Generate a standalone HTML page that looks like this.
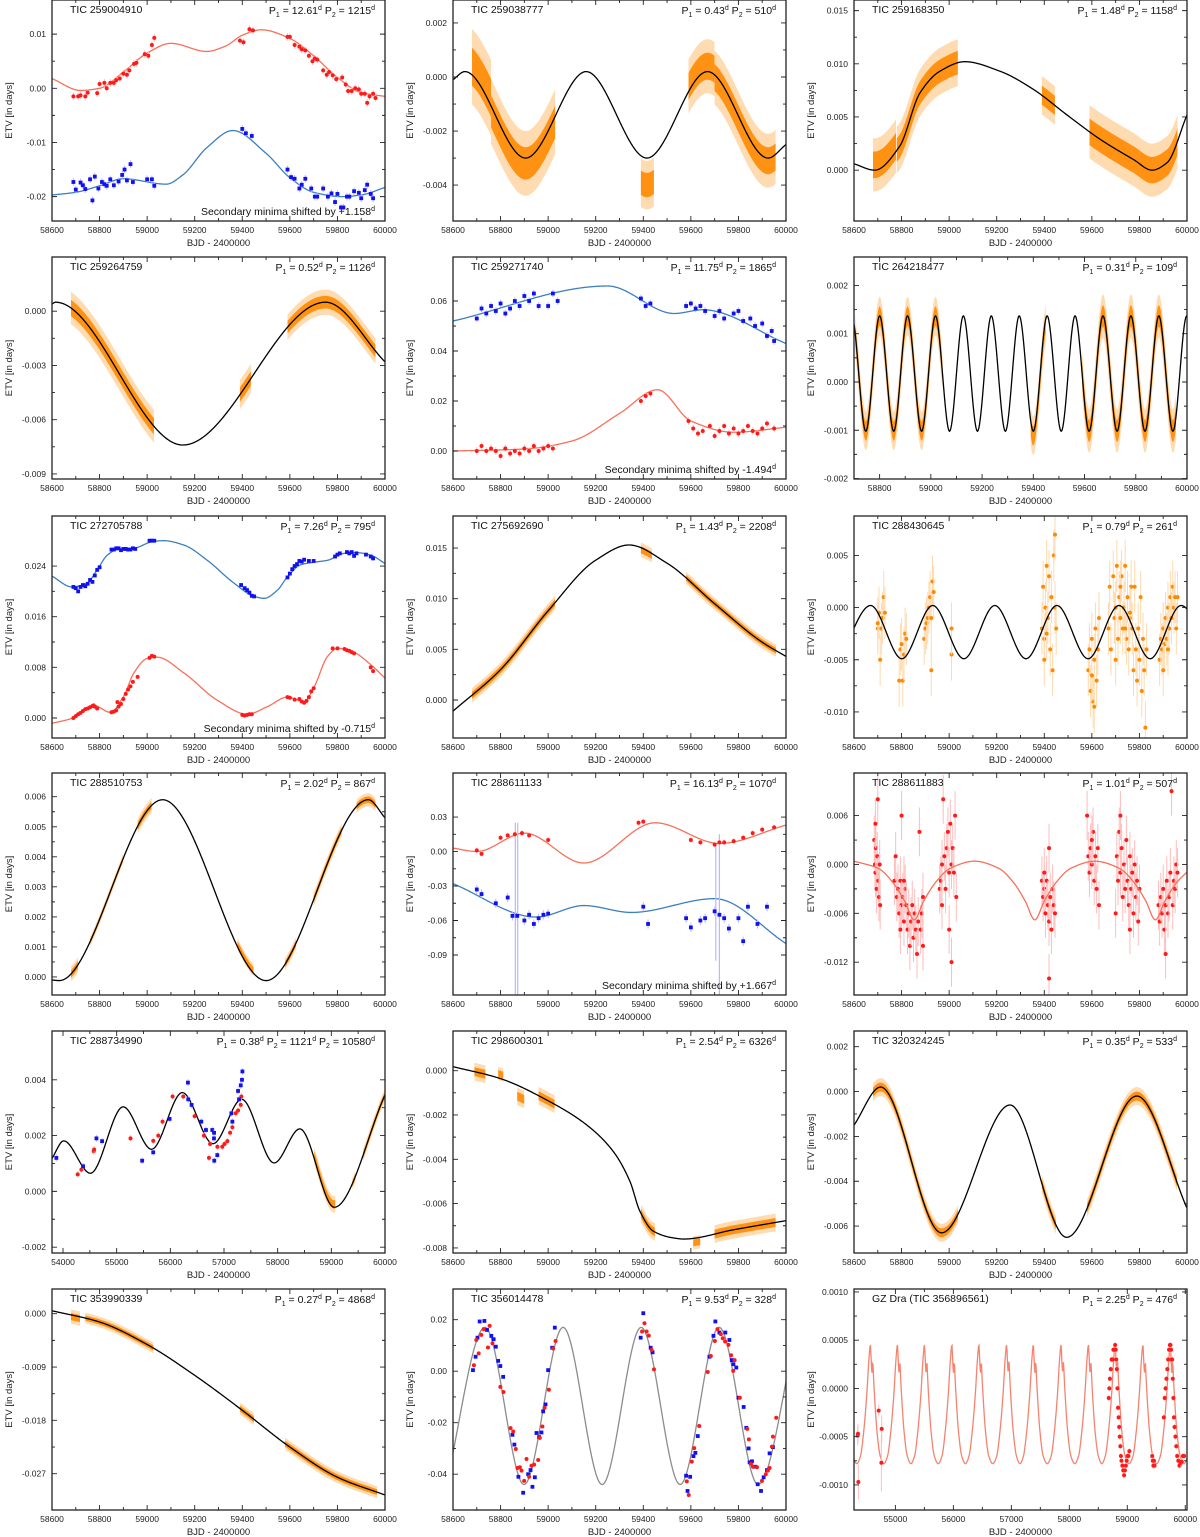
<!DOCTYPE html>
<html><head><meta charset="utf-8"><title>ETV panels</title>
<style>
html,body{margin:0;padding:0;background:#fff;}
svg{display:block;font-family:"Liberation Sans",Arial,sans-serif;}
</style></head>
<body>
<svg id="fig" xmlns="http://www.w3.org/2000/svg" width="1200" height="1537" viewBox="0 0 1200 1537"></svg>
<script>
// ---------------- DATA ----------------
const p01_redCurve=[[58600,0.0018],[58720,-0.0004],[58800,0.0],[58900,0.003],[59000,0.0065],[59100,0.0083],[59250,0.0068],[59330,0.0078],[59400,0.0098],[59480,0.0108],[59600,0.0092],[59700,0.006],[59800,0.002],[59900,-0.0008],[60000,-0.0015]];
const p01_blueCurve=[[58600,-0.0197],[58700,-0.0192],[58800,-0.018],[58900,-0.0167],[59080,-0.0177],[59150,-0.016],[59250,-0.011],[59360,-0.0078],[59500,-0.012],[59600,-0.0165],[59700,-0.0192],[59820,-0.02],[59900,-0.0197],[60000,-0.0183]];
const p01_redPts=[[58690,-0.0015],[58710,-0.0015],[58720,-0.0013],[58740,-0.0015],[58750,-0.0008],[58790,-0.0009],[58800,0.0008],[58820,0.001],[58830,0.0],[58845,0.001],[58860,0.001],[58870,0.0015],[58885,0.0018],[58900,0.0027],[58915,0.0025],[58925,0.0033],[58945,0.0045],[58955,0.0047],[58990,0.0063],[59005,0.006],[59020,0.008],[59030,0.0093],[59390,0.0088],[59405,0.0085],[59430,0.0109],[59445,0.0107],[59590,0.0095],[59600,0.0095],[59620,0.008],[59640,0.0077],[59650,0.0072],[59665,0.007],[59680,0.006],[59695,0.005],[59705,0.0055],[59715,0.0053],[59740,0.0033],[59755,0.0025],[59765,0.003],[59780,0.0024],[59795,0.0017],[59820,0.002],[59835,0.0007],[59845,-0.0005],[59860,-0.0005],[59875,0.0],[59890,-0.0002],[59900,-0.001],[59915,-0.001],[59925,-0.0027],[59935,-0.0015],[59950,-0.001],[59960,-0.0018]];
const p01_bluePts=[[58690,-0.0173],[58700,-0.0187],[58720,-0.0174],[58730,-0.0179],[58740,-0.0186],[58760,-0.0168],[58770,-0.0207],[58780,-0.0163],[58795,-0.0185],[58810,-0.0173],[58820,-0.0177],[58830,-0.018],[58845,-0.0168],[58860,-0.0179],[58880,-0.0172],[58895,-0.016],[58905,-0.015],[58915,-0.017],[58930,-0.014],[58940,-0.0173],[59000,-0.0168],[59020,-0.0168],[59030,-0.018],[59400,-0.0075],[59415,-0.0083],[59440,-0.0088],[59590,-0.015],[59605,-0.0164],[59620,-0.0167],[59640,-0.0185],[59650,-0.0178],[59665,-0.0167],[59690,-0.0185],[59705,-0.02],[59715,-0.02],[59740,-0.0185],[59760,-0.02],[59775,-0.0194],[59790,-0.021],[59800,-0.0195],[59815,-0.022],[59825,-0.022],[59840,-0.02],[59850,-0.02],[59870,-0.019],[59890,-0.0193],[59900,-0.0203],[59915,-0.0188],[59925,-0.0178],[59940,-0.0195],[59950,-0.0203]];
const p01_yTicks=[-0.02,-0.01,0,0.01];
const p02_curve=[[58600,-0.0001],[58650,0.0002],[58905,-0.003],[59160,0.0002],[59415,-0.003],[59670,0.0002],[59925,-0.003],[60000,-0.0025]];
const p02_clouds=[[58680,58760,0.0014,0.0003],[58760,59030,0.0012,-0.0002],[59390,59445,0.0009,-0.001],[59590,59700,0.001,0.0002],[59700,59960,0.001,-0.0001]];
const p02_yTicks=[-0.004,-0.002,0,0.002];
const p03_curve=[[58600,0.0006],[58687,0],[58792,0.00225],[58877,0.00725],[58961,0.0093],[59066,0.0102],[59214,0.0093],[59354,0.0076],[59495,0.0052],[59635,0.0029],[59775,0.001],[59853,0],[59916,0.0007],[60000,0.0052]];
const p03_clouds=[[58680,58780,0.0025,0.0005],[58780,59040,0.0022,0],[59390,59445,0.0018,0],[59590,59960,0.0025,0]];
const p03_yTicks=[0,0.005,0.01,0.015];
const p04_curve=[[58600,0.0004],[58615,0.0005],[59150,-0.0074],[59750,0.0005],[60000,-0.0028]];
const p04_clouds=[[58680,59030,0.0009,0],[59390,59440,0.0008,0],[59590,59960,0.0007,0]];
const p04_yTicks=[-0.009,-0.006,-0.003,0];
const p05_blueCurve=[[58600,0.052],[59250,0.066],[59530,0.055],[59650,0.0565],[60000,0.043]];
const p05_redCurve=[[58600,0.0],[58900,0.0008],[59100,0.004],[59300,0.015],[59460,0.0245],[59600,0.012],[59780,0.0075],[60000,0.0095]];
const p05_bluePts=[[58700,0.053],[58720,0.057],[58740,0.055],[58760,0.058],[58780,0.056],[58800,0.059],[58820,0.055],[58840,0.057],[58860,0.06],[58880,0.058],[58900,0.062],[58920,0.06],[58940,0.063],[58960,0.058],[59000,0.058],[59020,0.063],[59040,0.06],[59390,0.061],[59410,0.058],[59430,0.059],[59580,0.058],[59600,0.059],[59620,0.057],[59640,0.058],[59660,0.056],[59700,0.054],[59720,0.056],[59740,0.053],[59780,0.055],[59800,0.056],[59820,0.052],[59850,0.053],[59870,0.05],[59900,0.051],[59920,0.046],[59940,0.048],[59950,0.044]];
const p05_redPts=[[58700,0.0],[58720,0.002],[58740,0.0],[58760,0.001],[58780,0.0],[58800,-0.002],[58820,0.001],[58840,-0.001],[58860,0.0],[58880,-0.001],[58900,0.001],[58920,0.0],[58940,0.002],[58960,0.0],[58980,0.001],[59000,0.002],[59020,0.001],[59390,0.02],[59410,0.022],[59430,0.023],[59590,0.012],[59610,0.009],[59630,0.007],[59650,0.008],[59680,0.01],[59700,0.006],[59720,0.008],[59740,0.01],[59760,0.007],[59780,0.009],[59800,0.007],[59820,0.008],[59840,0.01],[59860,0.008],[59880,0.007],[59900,0.009],[59920,0.011],[59950,0.009]];
const p05_yTicks=[0,0.02,0.04,0.06];
const p06_curve=[[58637,-0.00102],[58691,0.00137],[58746,-0.00102],[58800,0.00137],[58855,-0.00102],[58909,0.00137],[58964,-0.00102],[59018,0.00137],[59073,-0.00102],[59127,0.00137],[59182,-0.00102],[59236,0.00137],[59291,-0.00102],[59345,0.00137],[59400,-0.00102],[59454,0.00137],[59509,-0.00102],[59563,0.00137],[59618,-0.00102],[59672,0.00137],[59727,-0.00102],[59781,0.00137],[59836,-0.00102],[59890,0.00137],[59945,-0.00102],[59999,0.00137],[60054,-0.00102]];
const p06_clouds=[[58705,59045,0.0004,0],[59390,59450,0.0004,-0.0001],[59590,59960,0.00045,0]];
const p06_yTicks=[-0.002,-0.001,0,0.001,0.002];
const p07_blueCurve=[[58600,0.0224],[58684,0.0207],[58747,0.0213],[58790,0.0234],[58832,0.0257],[58874,0.0266],[58944,0.0268],[59028,0.0279],[59070,0.028],[59155,0.0273],[59253,0.0249],[59365,0.0213],[59450,0.0192],[59492,0.0189],[59548,0.0202],[59590,0.0223],[59646,0.0242],[59702,0.0246],[59758,0.0249],[59829,0.026],[59885,0.0261],[59941,0.0257],[60000,0.0244]];
const p07_redCurve=[[58600,-0.00084],[58684,-0.00005],[58775,0.002],[58845,0.0009],[58901,0.0034],[58944,0.0071],[59000,0.0094],[59042,0.0096],[59155,0.0071],[59295,0.0028],[59421,0.0006],[59506,0.0018],[59590,0.0033],[59660,0.0026],[59702,0.0049],[59758,0.0097],[59800,0.011],[59857,0.0106],[59941,0.0084],[60000,0.0063]];
const p07_bluePts=[[58690,0.0207],[58700,0.0205],[58710,0.02],[58720,0.0207],[58730,0.021],[58740,0.0208],[58750,0.0212],[58760,0.0218],[58770,0.0215],[58780,0.0225],[58790,0.0234],[58800,0.0238],[58850,0.0266],[58860,0.0266],[58870,0.0268],[58880,0.0268],[58890,0.0265],[58900,0.0267],[58910,0.0267],[58920,0.0266],[58930,0.0266],[58940,0.0268],[58950,0.0267],[59010,0.028],[59020,0.028],[59030,0.028],[59395,0.021],[59410,0.0205],[59420,0.0202],[59430,0.0198],[59440,0.0193],[59450,0.0192],[59590,0.0222],[59600,0.0228],[59610,0.0235],[59620,0.024],[59630,0.0243],[59640,0.0248],[59650,0.0247],[59660,0.025],[59680,0.0248],[59700,0.0248],[59790,0.0255],[59800,0.0258],[59810,0.026],[59840,0.0262],[59850,0.026],[59860,0.0262],[59870,0.0256],[59880,0.026],[59920,0.0258],[59940,0.0255],[59950,0.0252]];
const p07_redPts=[[58690,0.0],[58700,0.0003],[58710,0.0006],[58720,0.0008],[58730,0.0011],[58740,0.0014],[58750,0.0015],[58760,0.0017],[58770,0.0019],[58775,0.002],[58780,0.0018],[58790,0.0015],[58850,0.0009],[58860,0.001],[58870,0.0012],[58875,0.0025],[58880,0.0018],[58890,0.0022],[58900,0.003],[58910,0.0038],[58920,0.0045],[58930,0.005],[58940,0.0057],[58960,0.0065],[59010,0.0095],[59020,0.0098],[59030,0.0097],[59400,0.0005],[59410,0.0004],[59420,0.0005],[59430,0.0006],[59440,0.0006],[59590,0.0033],[59600,0.0032],[59620,0.0029],[59640,0.003],[59650,0.0026],[59660,0.0024],[59670,0.0027],[59680,0.0033],[59690,0.0042],[59700,0.0047],[59780,0.011],[59800,0.011],[59830,0.0109],[59840,0.0107],[59850,0.0106],[59860,0.0104],[59870,0.0102],[59940,0.008],[59950,0.0074]];
const p07_yTicks=[0,0.008,0.016,0.024];
const p08_curve=[[58600,-0.0011],[58800,0.003],[59000,0.0088],[59200,0.0138],[59340,0.0153],[59500,0.0135],[59700,0.0095],[59900,0.0057],[60000,0.0043]];
const p08_clouds=[[58680,59030,0.0007,0],[59390,59440,0.0007,-0.0002],[59580,59960,0.0006,0]];
const p08_yTicks=[0,0.005,0.01,0.015];
const p09_curve=[[58540,-0.0049],[58670,0.0002],[58801,-0.0049],[58931,0.0002],[59062,-0.0049],[59192,0.0002],[59323,-0.0049],[59453,0.0002],[59584,-0.0049],[59714,0.0002],[59845,-0.0049],[59975,0.0002],[60106,-0.0049]];
const p09_pts=[[58700,-0.002],[58705,-0.0005],[58710,-0.005],[58715,-0.002],[58720,-0.001],[58725,0.001],[58730,-0.0005],[58700,-0.0015],[58790,-0.007],[58795,-0.004],[58800,-0.0035],[58805,-0.007],[58810,-0.0045],[58815,-0.0025],[58820,-0.003],[58895,-0.003],[58900,-0.002],[58905,-0.0015],[58910,-0.001],[58915,0.0],[58920,0.001],[58925,-0.001],[58930,0.0025],[58935,0.0015],[58925,-0.006],[59010,-0.0045],[59010,-0.002],[59390,-0.002],[59395,0.002],[59400,-0.003],[59405,0.0],[59410,0.004],[59415,-0.001],[59420,0.003],[59425,-0.004],[59430,0.001],[59435,-0.006],[59440,0.005],[59445,0.0],[59450,-0.002],[59445,0.007],[59400,-0.005],[59410,-0.0025],[59585,-0.006],[59590,-0.004],[59595,-0.008],[59600,-0.003],[59605,-0.009],[59610,-0.005],[59615,-0.002],[59620,-0.007],[59625,-0.004],[59630,-0.001],[59600,-0.0065],[59610,-0.0095],[59670,-0.002],[59675,0.002],[59680,-0.004],[59690,0.003],[59695,-0.001],[59700,0.0],[59705,0.004],[59710,-0.003],[59715,0.001],[59720,-0.001],[59725,0.003],[59730,-0.002],[59735,0.0],[59740,0.004],[59745,-0.003],[59750,0.001],[59755,-0.004],[59760,-0.001],[59765,0.002],[59770,-0.002],[59775,-0.006],[59780,0.002],[59785,-0.004],[59790,-0.007],[59795,-0.002],[59800,-0.005],[59805,0.001],[59810,-0.008],[59815,-0.003],[59820,-0.006],[59825,-0.0115],[59830,-0.004],[59700,-0.005],[59720,0.002],[59740,-0.002],[59760,-0.0005],[59885,-0.005],[59890,-0.003],[59895,-0.004],[59900,-0.002],[59905,-0.0035],[59910,-0.001],[59915,-0.003],[59920,0.0],[59925,-0.002],[59930,0.001],[59935,-0.001],[59940,0.002],[59945,0.0],[59950,0.001],[59955,-0.002],[59960,0.001],[59900,-0.006],[59920,-0.004]];
const p09_yTicks=[-0.01,-0.005,0,0.005];
const p10_curve=[[58600,-0.0001],[58630,-0.00012],[59065,0.0059],[59500,-0.00012],[59930,0.0059],[60000,0.0053]];
const p10_clouds=[[58680,58710,0.00025,0],[58760,58900,0.00015,0],[58960,59020,0.00025,0],[59380,59450,0.0002,0.0001],[59580,59630,0.0002,0],[59700,59820,0.00022,0],[59880,59960,0.00022,0]];
const p10_yTicks=[0,0.001,0.002,0.003,0.004,0.005,0.006];
const p11_redCurve=[[58600,0.003],[58700,0.0],[58900,0.016],[59150,-0.01],[59450,0.025],[59720,0.007],[60000,0.023]];
const p11_blueCurve=[[58600,-0.028],[58950,-0.057],[59150,-0.047],[59350,-0.053],[59700,-0.041],[60000,-0.08]];
const p11_redPts=[[58700,0.001],[58720,-0.002],[58800,0.012],[58830,0.014],[58860,0.015],[58890,0.016],[58920,0.014],[59000,0.01],[59380,0.025],[59400,0.026],[59600,0.01],[59640,0.008],[59700,0.006],[59720,0.008],[59740,0.008],[59780,0.009],[59820,0.012],[59860,0.016],[59900,0.019],[59950,0.021]];
const p11_bluePts=[[58700,-0.033],[58720,-0.037],[58780,-0.045],[58830,-0.04],[58850,-0.056],[58870,-0.056],[58900,-0.06],[58920,-0.055],[58940,-0.063],[58960,-0.058],[58980,-0.055],[59000,-0.054],[59400,-0.048],[59420,-0.063],[59580,-0.058],[59600,-0.066],[59640,-0.06],[59660,-0.058],[59700,-0.052],[59720,-0.055],[59740,-0.058],[59760,-0.067],[59800,-0.058],[59820,-0.078],[59840,-0.048],[59880,-0.063],[59920,-0.048]];
const p11_bigErr=[[58862,-0.055,0.08],[58872,-0.06,0.085],[59705,-0.045,0.05],[59720,-0.055,0.07]];
const p11_yTicks=[-0.09,-0.06,-0.03,0,0.03];
const p12_curve=[[58600,0.0004],[58703,-0.0005],[58763,-0.0022],[58813,-0.0045],[58853,-0.0068],[58893,-0.0045],[58943,-0.0022],[59003,-0.0005],[59107,0.0004],[59210,-0.0005],[59270,-0.0022],[59320,-0.0045],[59360,-0.0068],[59400,-0.0045],[59450,-0.0022],[59510,-0.0005],[59613,0.0004],[59717,-0.0005],[59777,-0.0022],[59827,-0.0045],[59867,-0.0068],[59907,-0.0045],[59957,-0.0022],[60017,-0.0005]];
const p12_pts=[[58685,0.003],[58688,0.0],[58690,-0.001],[58692,0.002],[58695,-0.003],[58698,0.001],[58700,0.008],[58702,-0.002],[58705,-0.004],[58708,0.0],[58710,-0.005],[58690,0.005],[58770,-0.002],[58775,0.001],[58780,-0.004],[58785,-0.003],[58790,-0.006],[58795,-0.002],[58800,0.006],[58800,-0.005],[58805,-0.004],[58810,-0.007],[58815,-0.003],[58820,-0.005],[58825,-0.008],[58830,-0.006],[58835,-0.01],[58840,-0.007],[58845,-0.005],[58850,-0.009],[58855,-0.006],[58860,-0.008],[58865,-0.011],[58870,-0.007],[58875,0.004],[58880,-0.008],[58885,-0.006],[58890,-0.004],[58890,-0.01],[58795,-0.008],[58810,-0.002],[58960,-0.003],[58965,-0.002],[58970,-0.005],[58975,0.008],[58980,0.001],[58985,-0.003],[58990,0.002],[58995,0.004],[59000,-0.001],[59005,0.005],[59010,0.0],[59015,0.002],[59020,-0.001],[59025,0.006],[59030,-0.004],[59010,-0.012],[59000,-0.008],[58970,0.0],[59390,-0.002],[59395,-0.004],[59400,-0.003],[59405,-0.006],[59410,-0.002],[59415,-0.005],[59420,0.002],[59420,-0.007],[59425,-0.004],[59430,-0.008],[59435,-0.003],[59440,-0.005],[59445,-0.006],[59420,-0.014],[59400,-0.001],[59580,0.006],[59585,0.001],[59590,-0.001],[59595,0.002],[59600,0.0],[59605,0.004],[59610,-0.002],[59615,0.001],[59620,-0.003],[59625,0.002],[59630,-0.005],[59600,0.003],[59700,-0.006],[59705,0.001],[59710,-0.002],[59715,0.004],[59720,-0.001],[59725,0.002],[59730,-0.004],[59735,0.0],[59740,-0.003],[59745,0.003],[59750,-0.002],[59755,-0.005],[59760,0.001],[59765,-0.003],[59770,-0.001],[59775,-0.006],[59780,0.0],[59785,-0.004],[59790,-0.002],[59795,-0.007],[59800,-0.003],[59720,0.006],[59760,-0.008],[59880,-0.005],[59885,-0.007],[59890,-0.004],[59895,-0.006],[59900,-0.003],[59905,-0.008],[59910,-0.005],[59915,-0.002],[59920,-0.006],[59925,-0.004],[59930,-0.001],[59935,0.009],[59940,-0.005],[59945,-0.002],[59950,-0.003],[59955,0.0],[59960,-0.001],[59910,-0.011]];
const p12_yTicks=[-0.012,-0.006,0,0.006];
const p13_curve=[[53795,0.00118],[54013,0.00181],[54511,0.00065],[55121,0.00303],[55650,0.00151],[56223,0.00354],[56795,0.00171],[57330,0.0033],[57934,0.00102],[58413,0.00224],[59054,-0.00057],[60000,0.00346]];
const p13_redPts=[[54274,0.00061],[54343,0.00078],[54573,0.00144],[54580,0.0015],[55258,0.0019],[55681,0.00181],[55775,0.002],[55855,0.0025],[56042,0.0034],[56241,0.0034],[56452,0.0027],[56627,0.002],[56720,0.0012],[56740,0.0017],[56877,0.0016],[56968,0.0016],[57010,0.0017],[57063,0.0018],[57113,0.0021],[57156,0.0023],[57218,0.0028],[57262,0.0029],[57312,0.0031],[57324,0.0034]];
const p13_bluePts=[[53876,0.0012],[54374,0.0009],[54623,0.0019],[54728,0.0018],[55475,0.0011],[55681,0.0014],[55986,0.0026],[56328,0.0039],[56334,0.0033],[56396,0.0031],[56577,0.0025],[56664,0.0022],[56782,0.0022],[56813,0.0019],[56815,0.0021],[56819,0.0011],[56875,0.0013],[57137,0.0028],[57156,0.0025],[57262,0.0036],[57280,0.0033],[57312,0.0038],[57343,0.0043],[57335,0.004]];
const p13_clouds=[[58680,59080,0.0003,0.0001],[59390,59450,0.0002,0],[59590,60000,0.00022,0]];
const p13_yTicks=[-0.002,0,0.002,0.004];
const p14_curve=[[58600,0.00018],[58797,-0.00035],[59007,-0.0014],[59162,-0.00245],[59274,-0.00365],[59344,-0.005],[59386,-0.00635],[59443,-0.00725],[59527,-0.00755],[59570,-0.0076],[59780,-0.00718],[60000,-0.00677]];
const p14_clouds=[[58690,58740,0.0004,0.0],[58790,58815,0.0003,0.0002],[58870,58900,0.0004,-0.0005],[58960,59030,0.0004,0.0],[59390,59450,0.0004,0.0],[59610,59640,0.0003,-0.0002],[59700,59960,0.0004,0.0]];
const p14_yTicks=[-0.008,-0.006,-0.004,-0.002,0];
const p15_curve=[[58600,-0.0015],[58712,0.0002],[58968,-0.0063],[59256,-0.0006],[59494,-0.0065],[59789,-0.0002],[60000,-0.0052]];
const p15_clouds=[[58680,59040,0.0004,0],[59390,59450,0.0004,0],[59580,59960,0.0004,0]];
const p15_yTicks=[-0.006,-0.004,-0.002,0,0.002];
const p16_curve=[[58600,0.0005],[58800,-0.0014],[59000,-0.0052],[59200,-0.0104],[59400,-0.0163],[59600,-0.0225],[59800,-0.0276],[60000,-0.0306]];
const p16_clouds=[[58680,58720,0.0012,-0.0003],[58740,59030,0.0009,0],[59390,59450,0.001,0],[59580,59970,0.001,0]];
const p16_yTicks=[-0.027,-0.018,-0.009,0];
const p17_curve=[[58571,-0.044],[58735,0.017],[58899,-0.044],[59063,0.017],[59227,-0.044],[59391,0.017],[59555,-0.044],[59719,0.017],[59883,-0.044],[60047,0.017]];
const p17_bluePts=[[58684,0.0004],[58695,0.0056],[58703,0.013],[58712,0.0193],[58732,0.0195],[58743,0.016],[58761,0.0137],[58771,0.0124],[58780,0.0095],[58790,0.004],[58799,0.002],[58811,-0.0022],[58850,-0.0247],[58858,-0.0285],[58875,-0.041],[58895,-0.0472],[58916,-0.04],[58926,-0.0384],[58934,-0.0449],[58944,-0.0412],[58951,-0.024],[58962,-0.0256],[58972,-0.0238],[58979,-0.0156],[58989,-0.0129],[59000,0.0004],[59017,0.0091],[59028,0.0169],[59389,0.013],[59400,0.0225],[59431,0.0091],[59439,0.0073],[59580,-0.0406],[59586,-0.0465],[59597,-0.041],[59611,-0.033],[59619,-0.0317],[59629,-0.0252],[59678,0.0056],[59695,0.0137],[59703,0.0193],[59720,0.015],[59745,0.015],[59762,0.0121],[59772,0.0043],[59779,0.0027],[59791,0.0014],[59800,-0.0103],[59822,-0.0139],[59833,-0.022],[59843,-0.03],[59847,-0.0354],[59857,-0.035],[59871,-0.0371],[59881,-0.0439],[59895,-0.0465],[59906,-0.0412],[59920,-0.0384],[59931,-0.0319],[59945,-0.0295]];
const p17_redPts=[[58688,0.0023],[58698,0.0121],[58708,0.0069],[58719,0.0141],[58729,0.0163],[58747,0.0092],[58754,0.0176],[58766,0.0108],[58799,-0.0061],[58812,-0.0081],[58842,-0.0221],[58853,-0.0234],[58864,-0.0302],[58871,-0.0376],[58881,-0.0373],[58888,-0.0386],[58899,-0.0426],[58909,-0.0341],[58920,-0.041],[58930,-0.0367],[58941,-0.0363],[58958,-0.0345],[58965,-0.0259],[58976,-0.0215],[58985,-0.0142],[59003,-0.0072],[59021,0.0088],[59031,0.0117],[59395,0.0154],[59405,0.0186],[59414,0.0154],[59423,0.0138],[59435,0.0082],[59445,0.0007],[59583,-0.0428],[59591,-0.0481],[59604,-0.0351],[59614,-0.0299],[59635,-0.0213],[59671,-0.0003],[59684,0.0059],[59701,0.0117],[59712,0.0163],[59726,0.0144],[59734,0.0128],[59744,0.0115],[59758,0.0102],[59769,0.0062],[59778,0.0001],[59784,0.0043],[59806,-0.0103],[59837,-0.0224],[59844,-0.0265],[59853,-0.036],[59861,-0.0371],[59878,-0.0373],[59899,-0.0426],[59915,-0.04],[59924,-0.0386],[59931,-0.0376],[59941,-0.0293],[59945,-0.0254],[59959,-0.0181]];
const p17_yTicks=[-0.04,-0.02,0,0.02];
const p18_peaks=[54098,54568,55035,55501,55974,56440,56918,57379,57857,58330,58791,59269,59741,60212];
const p18_tplOff=[-170,-115,-60,-25,0,20,30,40,60,115,170];
const p18_tplVal=[-0.0007,-0.00045,-0.00005,0.0003,0.00045,0.00022,0.00016,0.00028,0.00005,-0.00045,-0.0007];
const p18_trough=[-0.00078];
const p18_pts=[[54349,-0.00049,0.0001],[54355,-0.00047,0.0001],[54361,-0.00097,0.00018],[54712,-0.00023,0.00006],[54764,-0.00042,0.00014],[54758,-0.00077,0.0003]];
const p18_dense=[[58680,-0.0001],[58690,0.0],[58700,0.0001],[58715,0.0002],[58730,0.0003],[58745,0.0003],[58760,0.0004],[58775,0.0004],[58790,0.00045],[58800,0.0004],[58810,0.0003],[58820,0.0002],[58830,0.0],[58840,-0.0002],[58850,-0.0003],[58860,-0.0004],[58870,-0.0005],[58880,-0.0006],[58890,-0.0007],[58900,-0.00075],[58915,-0.0008],[58930,-0.00085],[58945,-0.0009],[58960,-0.00085],[58975,-0.0008],[58990,-0.00075],[59005,-0.0007],[59020,-0.0007],[59035,-0.00065],[59430,-0.0007],[59440,-0.00075],[59450,-0.0008],[59460,-0.00075],[59470,-0.0008],[59630,-0.0003],[59645,-0.0001],[59660,0.0],[59675,0.0001],[59690,0.0002],[59705,0.0003],[59720,0.0004],[59735,0.00045],[59745,0.00045],[59755,0.0004],[59765,0.0003],[59775,0.0003],[59785,0.0001],[59795,-0.0001],[59805,-0.0003],[59815,-0.0004],[59830,-0.0005],[59845,-0.0006],[59860,-0.0007],[59880,-0.00075],[59900,-0.0008],[59920,-0.00078],[59940,-0.00076],[59960,-0.0007],[59980,-0.0007]];
const p18_yTicks=[-0.001,-0.0005,0,0.0005,0.001];
const xTicksStd=[58600,58800,59000,59200,59400,59600,59800,60000];
const xTicks06=[58800,59000,59200,59400,59600,59800,60000];
const xTicks13=[54000,55000,56000,57000,58000,59000,60000];
const xTicks18=[55000,56000,57000,58000,59000,60000];

// ---------------- LAYOUT ----------------
const colLeft=[52,453,854], PW=333;
const rowTop=[0,257,516,773,1031,1289], rowH=[221,222,222,222,222,221];
const C={orange:'#ff8a00',orangeL:'#ffd9ae',red:'#ff1a1a',redL:'#ffbcbc',blue:'#1010f0',blueL:'#b8b8ff',curveRed:'#f7705a',curveBlue:'#3d7fbf',black:'#000',gray:'#8c8c8c',gz:'#f5836f'};

function buildP18(){
  const k=[];
  for(let i=0;i<p18_peaks.length;i++){
    if(i>0){k.push([(p18_peaks[i-1]+p18_peaks[i])/2,p18_trough[0]]);}
    for(let j=0;j<p18_tplOff.length;j++){k.push([p18_peaks[i]+p18_tplOff[j],p18_tplVal[j]]);}
  }
  return k;
}

const panels=[
 {r:0,c:0,x0:58600,x1:60000,y0:-0.0245,y1:0.0163,xt:xTicksStd,yt:p01_yTicks,dec:2,title:'TIC 259004910',per:[['1','12.61'],['2','1215']],note:'+1.158',
  curves:[[p01_redCurve,C.curveRed],[p01_blueCurve,C.curveBlue]],pts:[[p01_redPts,'red',0.0007],[p01_bluePts,'blue',0.0007]]},
 {r:0,c:1,x0:58600,x1:60000,y0:-0.00533,y1:0.00285,xt:xTicksStd,yt:p02_yTicks,dec:3,title:'TIC 259038777',per:[['1','0.43'],['2','510']],
  curves:[[p02_curve,C.black]],clouds:[p02_clouds,'orange','m']},
 {r:0,c:2,x0:58600,x1:60000,y0:-0.00478,y1:0.016,xt:xTicksStd,yt:p03_yTicks,dec:3,title:'TIC 259168350',per:[['1','1.48'],['2','1158']],
  curves:[[p03_curve,C.black]],clouds:[p03_clouds,'orange','m']},
 {r:1,c:0,x0:58600,x1:60000,y0:-0.00928,y1:0.003,xt:xTicksStd,yt:p04_yTicks,dec:3,title:'TIC 259264759',per:[['1','0.52'],['2','1126']],
  curves:[[p04_curve,C.black]],clouds:[p04_clouds,'orange','m']},
 {r:1,c:1,x0:58600,x1:60000,y0:-0.0112,y1:0.0776,xt:xTicksStd,yt:p05_yTicks,dec:2,title:'TIC 259271740',per:[['1','11.75'],['2','1865']],note:'-1.494',
  curves:[[p05_blueCurve,C.curveBlue],[p05_redCurve,C.curveRed]],pts:[[p05_bluePts,'blue',0.0015],[p05_redPts,'red',0.0015]]},
 {r:1,c:2,x0:58700,x1:60000,y0:-0.00201,y1:0.00259,xt:xTicks06,yt:p06_yTicks,dec:3,title:'TIC 264218477',per:[['1','0.31'],['2','109']],
  curves:[[p06_curve,C.black]],clouds:[p06_clouds,'orange','m']},
 {r:2,c:0,x0:58600,x1:60000,y0:-0.00316,y1:0.0319,xt:xTicksStd,yt:p07_yTicks,dec:3,title:'TIC 272705788',per:[['1','7.26'],['2','795']],note:'-0.715',
  curves:[[p07_blueCurve,C.curveBlue],[p07_redCurve,C.curveRed]],pts:[[p07_bluePts,'blue',0.0003],[p07_redPts,'red',0.0003]]},
 {r:2,c:1,x0:58600,x1:60000,y0:-0.00375,y1:0.01816,xt:xTicksStd,yt:p08_yTicks,dec:3,title:'TIC 275692690',per:[['1','1.43'],['2','2208']],
  curves:[[p08_curve,C.black]],clouds:[p08_clouds,'orange','m']},
 {r:2,c:2,x0:58600,x1:60000,y0:-0.0125,y1:0.00878,xt:xTicksStd,yt:p09_yTicks,dec:3,title:'TIC 288430645',per:[['1','0.79'],['2','261']],
  curves:[[p09_curve,C.black]],ptsFirst:[[p09_pts,'orange',0.0025]]},
 {r:3,c:0,x0:58600,x1:60000,y0:-0.0006,y1:0.00679,xt:xTicksStd,yt:p10_yTicks,dec:3,title:'TIC 288510753',per:[['1','2.02'],['2','867']],
  curves:[[p10_curve,C.black]],clouds:[p10_clouds,'orange','m']},
 {r:3,c:1,x0:58600,x1:60000,y0:-0.1248,y1:0.0683,xt:xTicksStd,yt:p11_yTicks,dec:2,title:'TIC 288611133',per:[['1','16.13'],['2','1070']],note:'+1.667',
  curves:[[p11_redCurve,C.curveRed],[p11_blueCurve,C.curveBlue]],pts:[[p11_redPts,'red',0.0025],[p11_bluePts,'blue',0.004]],big:p11_bigErr},
 {r:3,c:2,x0:58600,x1:60000,y0:-0.01603,y1:0.01123,xt:xTicksStd,yt:p12_yTicks,dec:3,title:'TIC 288611883',per:[['1','1.01'],['2','507']],
  curves:[[p12_curve,C.curveRed]],ptsFirst:[[p12_pts,'red',0.003]]},
 {r:4,c:0,x0:53795,x1:60000,y0:-0.00221,y1:0.00575,xt:xTicks13,yt:p13_yTicks,dec:3,title:'TIC 288734990',per:[['1','0.38'],['2','1121'],['2','10580']],
  curves:[[p13_curve,C.black]],clouds:[p13_clouds,'orange','m'],pts:[[p13_redPts,'red',0.00012],[p13_bluePts,'blue',0.00012]]},
 {r:4,c:1,x0:58600,x1:60000,y0:-0.00823,y1:0.00179,xt:xTicksStd,yt:p14_yTicks,dec:3,title:'TIC 298600301',per:[['1','2.54'],['2','6326']],
  curves:[[p14_curve,C.black]],clouds:[p14_clouds,'orange','m']},
 {r:4,c:2,x0:58600,x1:60000,y0:-0.0072,y1:0.0027,xt:xTicksStd,yt:p15_yTicks,dec:3,title:'TIC 320324245',per:[['1','0.35'],['2','533']],
  curves:[[p15_curve,C.black]],clouds:[p15_clouds,'orange','m']},
 {r:5,c:0,x0:58600,x1:60000,y0:-0.03313,y1:0.00417,xt:xTicksStd,yt:p16_yTicks,dec:3,title:'TIC 353990339',per:[['1','0.27'],['2','4868']],
  curves:[[p16_curve,C.black]],clouds:[p16_clouds,'orange','m']},
 {r:5,c:1,x0:58600,x1:60000,y0:-0.0539,y1:0.0319,xt:xTicksStd,yt:p17_yTicks,dec:2,title:'TIC 356014478',per:[['1','9.53'],['2','328']],
  curves:[[p17_curve,C.gray]],pts:[[p17_bluePts,'blue',0],[p17_redPts,'red',0]]},
 {r:5,c:2,x0:54286,x1:60030,y0:-0.00126,y1:0.00103,xt:xTicks18,yt:p18_yTicks,dec:4,title:'GZ Dra (TIC 356896561)',per:[['1','2.25'],['2','476']],
  curves:[[buildP18(),C.gz]],pts:[[p18_dense,'red',0.00003]],pts18:p18_pts}
];

// ---------------- DRAWING ----------------
const NS='http://www.w3.org/2000/svg';
const svg=document.getElementById('fig');
function mk(tag,parent){const e=document.createElementNS(NS,tag);parent.appendChild(e);return e;}

function mono(knots){
  const n=knots.length,xs=knots.map(k=>k[0]),ys=knots.map(k=>k[1]);
  const d=[],m=new Array(n);
  for(let i=0;i<n-1;i++)d.push((ys[i+1]-ys[i])/(xs[i+1]-xs[i]));
  m[0]=d[0];m[n-1]=d[n-2];
  for(let i=1;i<n-1;i++){
    if(d[i-1]*d[i]<=0)m[i]=0;
    else{const w1=2*(xs[i+1]-xs[i])+(xs[i]-xs[i-1]),w2=(xs[i+1]-xs[i])+2*(xs[i]-xs[i-1]);m[i]=(w1+w2)/(w1/d[i-1]+w2/d[i]);}
  }
  return function(x){
    if(x<=xs[0])return ys[0]+m[0]*(x-xs[0]);
    if(x>=xs[n-1])return ys[n-1]+m[n-1]*(x-xs[n-1]);
    let i=0;while(x>xs[i+1])i++;
    const h=xs[i+1]-xs[i],t=(x-xs[i])/h,t2=t*t,t3=t2*t;
    return (2*t3-3*t2+1)*ys[i]+(t3-2*t2+t)*h*m[i]+(-2*t3+3*t2)*ys[i+1]+(t3-t2)*h*m[i+1];
  };
}

panels.forEach(function(p,idx){
  const L=colLeft[p.c],T=rowTop[p.r],H=rowH[p.r],R=L+PW,B=T+H;
  const X=v=>L+(v-p.x0)/(p.x1-p.x0)*PW;
  const Y=v=>T+(p.y1-v)/(p.y1-p.y0)*H;
  const g=mk('g',svg);
  
  
  const cp=mk('clipPath',g);cp.setAttribute('id','cp'+idx);
  const cr=mk('rect',cp);cr.setAttribute('x',L);cr.setAttribute('y',T);cr.setAttribute('width',PW);cr.setAttribute('height',H);
  const plot=mk('g',g);plot.setAttribute('clip-path','url(#cp'+idx+')');
  
  
  const model=mono(p.curves[0][0]);
  const step=(p.x1-p.x0)/PW;

  function drawClouds(){
    if(!p.clouds)return;
    const cl=p.clouds[0],col=p.clouds[1],mode=p.clouds[2];
    const light=col==='red'?C.redL:C.orangeL,dark=col==='red'?C.red:C.orange;
    cl.forEach(function(s){
      [[1,light,0.95],[0.5,dark,0.9]].forEach(function(layer){
        let up=[],dn=[];
        for(let x=s[0];x<=s[1]+1e-9;x+=step){
          const c=mode==='m'?model(x)+s[3]:s[3];
          let sp=s[2]*layer[0];
          const minsp=1.6*(p.y1-p.y0)/H; if(sp<minsp)sp=minsp;
          up.push(X(x).toFixed(1)+','+Y(c+sp).toFixed(1));
          dn.unshift(X(x).toFixed(1)+','+Y(c-sp).toFixed(1));
        }
        const band=mk('polygon',plot);
        
        
        band.setAttribute('points',up.concat(dn).join(' '));
        band.setAttribute('fill',layer[1]);band.setAttribute('fill-opacity',layer[2]);
      });
    });
  }
  function drawCurves(){
    p.curves.forEach(function(cv){
      const f=mono(cv[0]);let dstr='';
      for(let px=0;px<=PW;px+=0.5){const x=p.x0+px/PW*(p.x1-p.x0);dstr+=(px===0?'M':'L')+(L+px).toFixed(1)+','+Y(f(x)).toFixed(2);}
      const path=mk('path',plot);
      
      
      path.setAttribute('d',dstr);path.setAttribute('fill','none');path.setAttribute('stroke',cv[1]);path.setAttribute('stroke-width','1.3');
    });
  }
  function drawPt(x,y,err,kind){
    const light=kind==='blue'?C.blueL:(kind==='orange'?C.orangeL:C.redL);
    const dark=kind==='blue'?C.blue:(kind==='orange'?C.orange:C.red);
    if(err>0){
      const eb=mk('line',plot);
      
      
      eb.setAttribute('x1',X(x));eb.setAttribute('x2',X(x));eb.setAttribute('y1',Y(y+err));eb.setAttribute('y2',Y(y-err));
      eb.setAttribute('stroke',light);eb.setAttribute('stroke-width','1');
    }
    let mkr;
    if(kind==='blue'){mkr=mk('rect',plot);mkr.setAttribute('x',X(x)-1.9);mkr.setAttribute('y',Y(y)-1.9);mkr.setAttribute('width',3.8);mkr.setAttribute('height',3.8);}
    else{mkr=mk('circle',plot);mkr.setAttribute('cx',X(x));mkr.setAttribute('cy',Y(y));mkr.setAttribute('r',2);}
    
    
    mkr.setAttribute('fill',dark);
  }
  if(p.ptsFirst){p.ptsFirst.forEach(function(s){s[0].forEach(function(q){drawPt(q[0],q[1],s[2],s[1]);});});}
  drawClouds();
  drawCurves();
  if(p.big){p.big.forEach(function(b){
    const ln=mk('line',plot);
    
    
    ln.setAttribute('x1',X(b[0]));ln.setAttribute('x2',X(b[0]));ln.setAttribute('y1',Y(b[1]+b[2]));ln.setAttribute('y2',Y(b[1]-b[2]));
    ln.setAttribute('stroke',C.blueL);ln.setAttribute('stroke-width','1.2');
  });}
  if(p.pts){p.pts.forEach(function(s){s[0].forEach(function(q){drawPt(q[0],q[1],s[2],s[1]);});});}
  if(p.pts18){p.pts18.forEach(function(q){drawPt(q[0],q[1],q[2],'red');});}

  const fr=mk('rect',g);
  
  
  fr.setAttribute('x',L);fr.setAttribute('y',T);fr.setAttribute('width',PW);fr.setAttribute('height',H);
  fr.setAttribute('fill','none');fr.setAttribute('stroke','#222');fr.setAttribute('stroke-width','1.3');
  let td='';
  p.xt.forEach(function(v,i){const x=X(v);td+='M'+x+','+B+'v-5M'+x+','+T+'v5';
    if(i<p.xt.length-1){const xm=X((v+p.xt[i+1])/2);td+='M'+xm+','+B+'v-3M'+xm+','+T+'v3';}});
  p.yt.forEach(function(v,i){const y=Y(v);td+='M'+L+','+y+'h5M'+R+','+y+'h-5';
    if(i<p.yt.length-1){const ym=Y((v+p.yt[i+1])/2);td+='M'+L+','+ym+'h3M'+R+','+ym+'h-3';}});
  const tk=mk('path',g);
  
  
  tk.setAttribute('d',td);tk.setAttribute('stroke','#222');tk.setAttribute('stroke-width','0.9');
  p.xt.forEach(function(v){
    const t=mk('text',g);
    
    
    t.setAttribute('x',X(v));t.setAttribute('y',B+12);t.setAttribute('text-anchor','middle');t.setAttribute('font-size','8.5');t.setAttribute('fill','#222');
    t.textContent=String(v);
  });
  p.yt.forEach(function(v){
    const t=mk('text',g);
    
    
    t.setAttribute('x',L-6);t.setAttribute('y',Y(v)+3);t.setAttribute('text-anchor','end');t.setAttribute('font-size','8.5');t.setAttribute('fill','#222');
    t.textContent=v.toFixed(p.dec);
  });
  const xl=mk('text',g);
  
  
  xl.setAttribute('x',L+PW/2);xl.setAttribute('y',B+25);xl.setAttribute('text-anchor','middle');xl.setAttribute('font-size','9.5');xl.setAttribute('fill','#222');
  xl.textContent='BJD - 2400000';
  const yl=mk('text',g);
  
  
  yl.setAttribute('transform','translate('+(L-40)+','+(T+H/2)+') rotate(-90)');yl.setAttribute('text-anchor','middle');yl.setAttribute('font-size','9.5');yl.setAttribute('fill','#222');
  yl.textContent='ETV [in days]';
  const tt=mk('text',g);
  
  
  tt.setAttribute('x',L+18);tt.setAttribute('y',T+13);tt.setAttribute('font-size','10.5');tt.setAttribute('fill','#111');
  tt.textContent=p.title;
  const pt=mk('text',g);
  
  
  pt.setAttribute('x',R-10);pt.setAttribute('y',T+14);pt.setAttribute('text-anchor','end');pt.setAttribute('font-size','10.5');pt.setAttribute('fill','#111');
  p.per.forEach(function(q,i){
    const a=mk('tspan',pt);a.textContent=(i>0?' ':'')+'P';
    const s=mk('tspan',pt);s.setAttribute('font-size','7');s.setAttribute('baseline-shift','-3');s.textContent=q[0];
    const v=mk('tspan',pt);v.textContent=' = '+q[1];
    const u=mk('tspan',pt);u.setAttribute('font-size','7');u.setAttribute('baseline-shift','4');u.textContent='d';
  });
  if(p.note){
    const nt=mk('text',g);
    
    
    nt.setAttribute('x',R-10);nt.setAttribute('y',B-6);nt.setAttribute('text-anchor','end');nt.setAttribute('font-size','10.5');nt.setAttribute('fill','#111');
    const a=mk('tspan',nt);a.textContent='Secondary minima shifted by '+p.note;
    const u=mk('tspan',nt);u.setAttribute('font-size','7');u.setAttribute('baseline-shift','4');u.textContent='d';
  }
});
</script>
</body></html>
